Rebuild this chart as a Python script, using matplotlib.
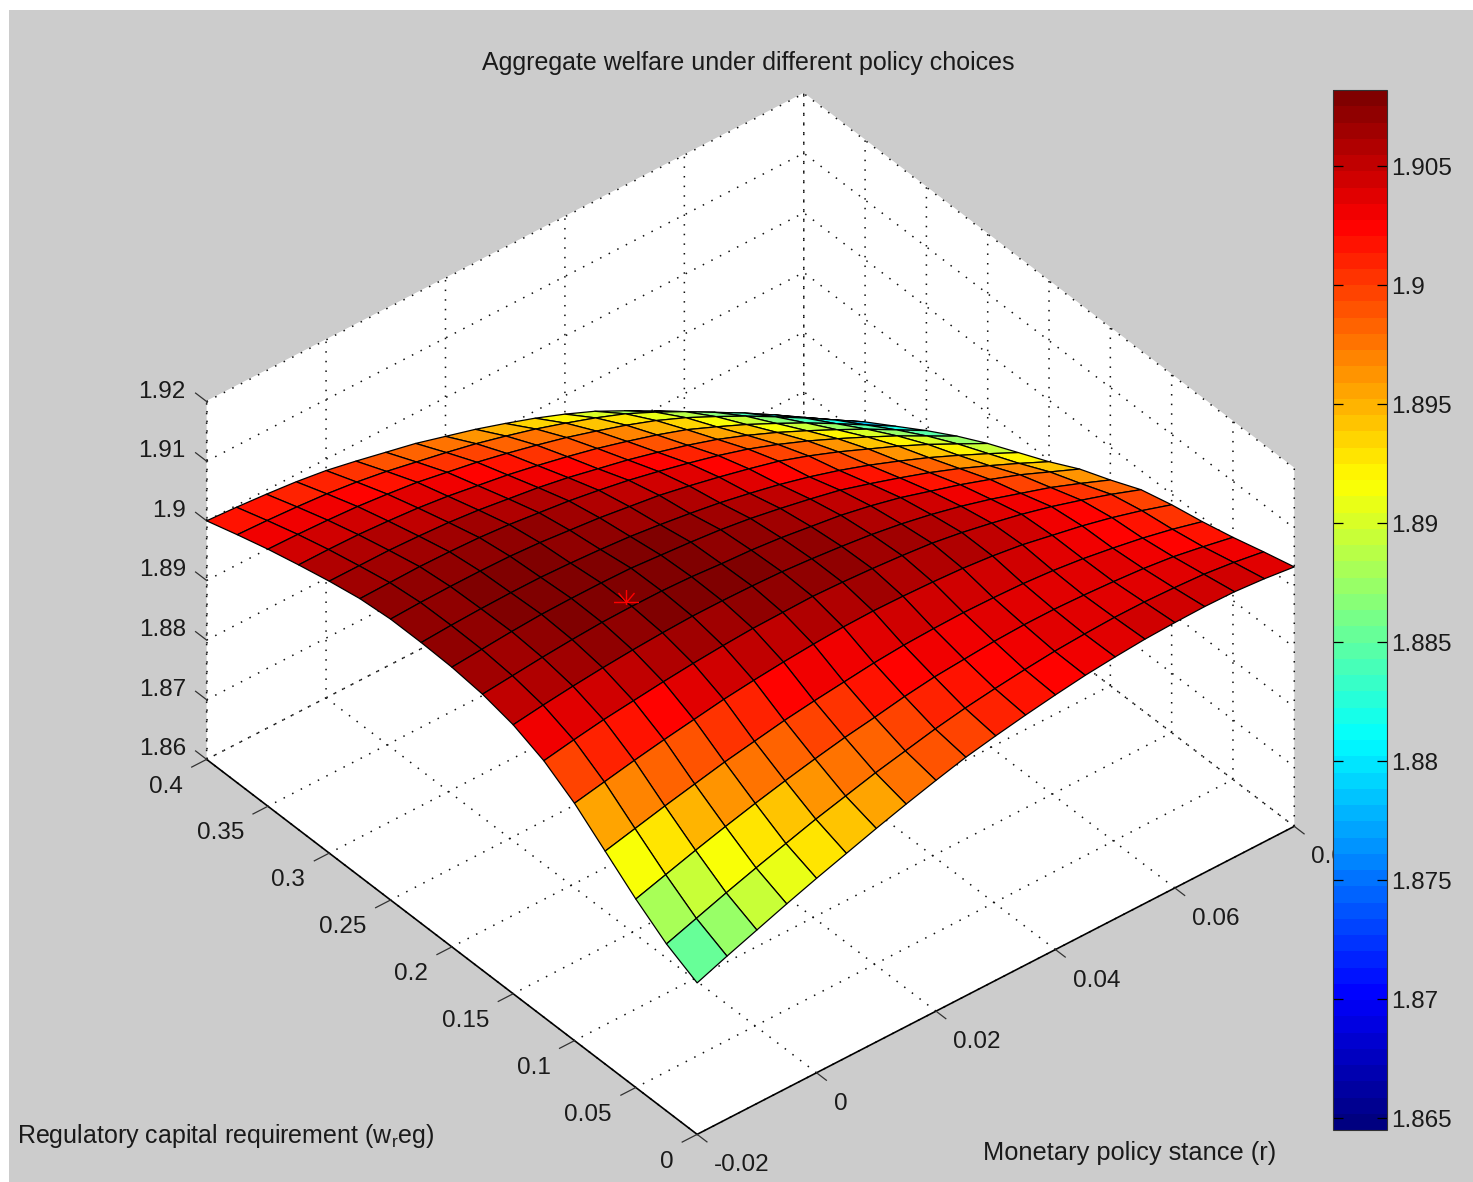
import numpy as np
import matplotlib
matplotlib.use("Agg")
import matplotlib.pyplot as plt
from matplotlib.cm import ScalarMappable
from matplotlib.colors import LinearSegmentedColormap, Normalize
from matplotlib.patches import Rectangle
from matplotlib.path import Path

plt.rcParams["font.family"] = ["Liberation Sans", "DejaVu Sans"]
plt.rcParams["mathtext.default"] = "regular"

r_values = [-0.02, -0.015, -0.01, -0.005, 0, 0.005, 0.01, 0.015, 0.02, 0.025, 0.03,
            0.035, 0.04, 0.045, 0.05, 0.055, 0.06, 0.065, 0.07, 0.075, 0.08]
w_values = [0, 0.025, 0.05, 0.075, 0.1, 0.125, 0.15, 0.175, 0.2, 0.225, 0.25,
            0.275, 0.3, 0.325, 0.35, 0.375, 0.4]

# one row per w_values entry, one column per r_values entry
welfare = [
    [1.8854, 1.8873, 1.8891, 1.8909, 1.8926, 1.8942, 1.8958, 1.8973, 1.8987, 1.9000, 1.9010, 1.9019, 1.9027, 1.9034, 1.9039, 1.9043, 1.9045, 1.9046, 1.9045, 1.9041, 1.9035],
    [1.8880, 1.8897, 1.8914, 1.8930, 1.8945, 1.8960, 1.8973, 1.8986, 1.8997, 1.9008, 1.9017, 1.9024, 1.9030, 1.9035, 1.9038, 1.9040, 1.9040, 1.9038, 1.9035, 1.9029, 1.9021],
    [1.8916, 1.8931, 1.8946, 1.8960, 1.8973, 1.8985, 1.8996, 1.9006, 1.9014, 1.9023, 1.9030, 1.9034, 1.9038, 1.9040, 1.9040, 1.9038, 1.9035, 1.9031, 1.9025, 1.9016, 1.9006],
    [1.8957, 1.8969, 1.8981, 1.8992, 1.9003, 1.9012, 1.9021, 1.9028, 1.9034, 1.9040, 1.9044, 1.9046, 1.9047, 1.9046, 1.9044, 1.9040, 1.9034, 1.9026, 1.9017, 1.9006, 1.8993],
    [1.8998, 1.9008, 1.9018, 1.9027, 1.9035, 1.9043, 1.9049, 1.9054, 1.9058, 1.9061, 1.9062, 1.9061, 1.9059, 1.9056, 1.9051, 1.9044, 1.9034, 1.9024, 1.9012, 1.8998, 1.8982],
    [1.9030, 1.9039, 1.9047, 1.9053, 1.9059, 1.9064, 1.9068, 1.9071, 1.9072, 1.9073, 1.9071, 1.9068, 1.9064, 1.9059, 1.9051, 1.9041, 1.9030, 1.9017, 1.9002, 1.8986, 1.8968],
    [1.9051, 1.9058, 1.9064, 1.9069, 1.9073, 1.9076, 1.9078, 1.9078, 1.9077, 1.9075, 1.9071, 1.9066, 1.9060, 1.9052, 1.9042, 1.9030, 1.9016, 1.9000, 1.8984, 1.8965, 1.8945],
    [1.9063, 1.9068, 1.9073, 1.9077, 1.9080, 1.9081, 1.9081, 1.9079, 1.9075, 1.9072, 1.9067, 1.9060, 1.9053, 1.9043, 1.9031, 1.9016, 1.9001, 1.8984, 1.8966, 1.8945, 1.8924],
    [1.9069, 1.9073, 1.9077, 1.9080, 1.9081, 1.9081, 1.9080, 1.9076, 1.9072, 1.9067, 1.9060, 1.9051, 1.9041, 1.9030, 1.9015, 1.8999, 1.8982, 1.8963, 1.8942, 1.8920, 1.8897],
    [1.9071, 1.9074, 1.9076, 1.9077, 1.9077, 1.9075, 1.9072, 1.9068, 1.9062, 1.9055, 1.9047, 1.9037, 1.9026, 1.9013, 1.8998, 1.8981, 1.8962, 1.8942, 1.8920, 1.8897, 1.8873],
    [1.9071, 1.9073, 1.9074, 1.9074, 1.9073, 1.9070, 1.9065, 1.9060, 1.9053, 1.9046, 1.9036, 1.9025, 1.9013, 1.9000, 1.8983, 1.8964, 1.8943, 1.8922, 1.8899, 1.8874, 1.8849],
    [1.9066, 1.9067, 1.9068, 1.9067, 1.9065, 1.9061, 1.9055, 1.9049, 1.9041, 1.9032, 1.9021, 1.9009, 1.8996, 1.8981, 1.8963, 1.8943, 1.8921, 1.8898, 1.8874, 1.8848, 1.8822],
    [1.9056, 1.9056, 1.9056, 1.9054, 1.9051, 1.9046, 1.9039, 1.9032, 1.9023, 1.9012, 1.9001, 1.8988, 1.8974, 1.8958, 1.8939, 1.8918, 1.8895, 1.8871, 1.8846, 1.8819, 1.8792],
    [1.9044, 1.9044, 1.9043, 1.9040, 1.9036, 1.9030, 1.9022, 1.9014, 1.9004, 1.8993, 1.8981, 1.8967, 1.8952, 1.8935, 1.8914, 1.8892, 1.8868, 1.8843, 1.8816, 1.8788, 1.8760],
    [1.9031, 1.9030, 1.9028, 1.9025, 1.9020, 1.9014, 1.9005, 1.8996, 1.8985, 1.8973, 1.8960, 1.8945, 1.8929, 1.8911, 1.8890, 1.8866, 1.8841, 1.8814, 1.8786, 1.8757, 1.8728],
    [1.9016, 1.9014, 1.9011, 1.9007, 1.9001, 1.8993, 1.8983, 1.8973, 1.8962, 1.8949, 1.8935, 1.8919, 1.8902, 1.8883, 1.8860, 1.8835, 1.8808, 1.8781, 1.8752, 1.8722, 1.8692],
    [1.9000, 1.8997, 1.8993, 1.8988, 1.8981, 1.8971, 1.8960, 1.8949, 1.8935, 1.8921, 1.8905, 1.8888, 1.8869, 1.8848, 1.8823, 1.8797, 1.8768, 1.8739, 1.8708, 1.8676, 1.8645],
]

best_r = 0.005
best_w = 0.18
best_z = 1.9081

r_ticks = [-0.02, 0, 0.02, 0.04, 0.06, 0.08]
r_tick_labels = ["-0.02", "0", "0.02", "0.04", "0.06", "0.08"]
w_ticks = [0, 0.05, 0.1, 0.15, 0.2, 0.25, 0.3, 0.35, 0.4]
w_tick_labels = ["0", "0.05", "0.1", "0.15", "0.2", "0.25", "0.3", "0.35", "0.4"]
z_ticks = [1.86, 1.87, 1.88, 1.89, 1.9, 1.91, 1.92]
z_tick_labels = ["1.86", "1.87", "1.88", "1.89", "1.9", "1.91", "1.92"]
cbar_ticks = [1.865, 1.87, 1.875, 1.88, 1.885, 1.89, 1.895, 1.9, 1.905]
cbar_labels = ["1.865", "1.87", "1.875", "1.88", "1.885", "1.89", "1.895", "1.9", "1.905"]

text_color = "#1a1a1a"
tick_size = 17.5

welfare = np.array(welfare)
norm = Normalize(1.8645, 1.9082)
cmap = LinearSegmentedColormap.from_list(
    "matlab_jet",
    [(0, (0, 0, 0.5)), (1 / 8, (0, 0, 1)), (3 / 8, (0, 1, 1)), (5 / 8, (1, 1, 0)), (7 / 8, (1, 0, 0)), (1, (0.5, 0, 0))],
    N=64,
)

px_w, px_h = 1473, 1182
fig = plt.figure(figsize=(px_w / 100, px_h / 100), dpi=100, facecolor="white")
fig.add_artist(Rectangle((9 / px_w, 0), 1 - 9 / px_w, 1 - 10 / px_h, transform=fig.transFigure,
                         facecolor="#cccccc", edgecolor="none", zorder=-5))

side = 1151
ax = fig.add_axes([159.4 / px_w, -23 / px_h, side / px_w, side / px_h], projection="3d", computed_zorder=False)
ax.patch.set_alpha(0)
ax.set_proj_type("ortho")
ax.view_init(elev=38.9, azim=-129.4)
ax.set_box_aspect((1, 1, 0.595), zoom=1)
ax.set_xlim(-0.02, 0.08)
ax.set_ylim(0, 0.4)
ax.set_zlim(1.86, 1.92)
ax.set_xticks(r_ticks)
ax.set_yticks(w_ticks)
ax.set_zticks(z_ticks)
ax.set_xticklabels([])
ax.set_yticklabels([])
ax.set_zticklabels([])
for axis in (ax.xaxis, ax.yaxis, ax.zaxis):
    axis.set_pane_color((1, 1, 1, 1))
    axis.pane.set_edgecolor("white")
    axis.line.set_alpha(0)
    axis._axinfo["grid"].update(color="#111111", linewidth=1.1, linestyle=(0, (1, 5.3)))
    axis._axinfo["tick"].update(inward_factor=0, outward_factor=0)

X, Y = np.meshgrid(r_values, w_values)
ax.plot_surface(X, Y, welfare, rstride=1, cstride=1, facecolors=cmap(norm(welfare)), shade=False,
                edgecolor="black", linewidth=0.9, zorder=3)

# lower arms of the star are hidden by the surface in the original
star = Path([(-.5, 0), (.5, 0), (0, 0), (0, .5), (0, 0), (.32, .38), (0, 0), (-.32, .38), (0, 0), (0, -.1)],
            [Path.MOVETO, Path.LINETO] * 5)
ax.plot([best_r], [best_w], [best_z], linestyle="none", marker=star, markersize=18, markeredgecolor="red",
        markerfacecolor="none", markeredgewidth=1, zorder=5)

# axis lines and ticks
ax.plot([-0.02, 0.08], [0, 0], [1.86, 1.86], color="black", lw=1.2, zorder=2)
ax.plot([-0.02, -0.02], [0, 0.4], [1.86, 1.86], color="black", lw=1.2, zorder=2)
ax.plot([-0.02, -0.02], [0.4, 0.4], [1.86, 1.92], color="#111111", lw=1.1, ls=(0, (1, 5.3)), zorder=2)
for val, lab in zip(r_ticks, r_tick_labels):
    ax.plot([val, val], [0, -0.008], [1.86, 1.86], color="#333333", lw=0.9, zorder=2)
    ax.text(val, -0.014, 1.857, lab, ha="left", va="center", fontsize=tick_size, color=text_color, zorder=2)
for val, lab in zip(w_ticks, w_tick_labels):
    ax.plot([-0.02, -0.0225], [val, val], [1.86, 1.86], color="#333333", lw=0.9, zorder=2)
    ax.text(-0.024, val, 1.8575, lab, ha="right", va="center", fontsize=tick_size, color=text_color, zorder=2)
for val, lab in zip(z_ticks, z_tick_labels):
    ax.plot([-0.02, -0.02], [0.4, 0.409], [val, val], color="#333333", lw=0.9, zorder=2)
    ax.text(-0.02, 0.417, val - 0.001, lab, ha="right", va="center", fontsize=tick_size, color=text_color, zorder=2)

fig.text(748 / px_w, 1 - 63 / px_h, "Aggregate welfare under different policy choices",
         ha="center", va="center", fontsize=18, color=text_color)
fig.text(17 / px_w, 1 - 1136 / px_h, "Regulatory capital requirement (w$_{r}$eg)",
         ha="left", va="center", fontsize=18, color=text_color)
fig.text(1276 / px_w, 1 - 1153 / px_h, "Monetary policy stance (r)",
         ha="right", va="center", fontsize=18.3, color=text_color)

cax = fig.add_axes([1333 / px_w, 1 - 1130 / px_h, 54 / px_w, 1040 / px_h], zorder=10)
cb = fig.colorbar(ScalarMappable(norm=norm, cmap=cmap), cax=cax, ticks=cbar_ticks)
cb.ax.set_yticklabels(cbar_labels, fontsize=tick_size, color=text_color)
cb.ax.tick_params(direction="in", left=True, right=True, length=7, width=0.9, pad=3)
cb.outline.set_edgecolor("#333333")

fig.savefig("out.png", dpi=100, facecolor=fig.get_facecolor())
